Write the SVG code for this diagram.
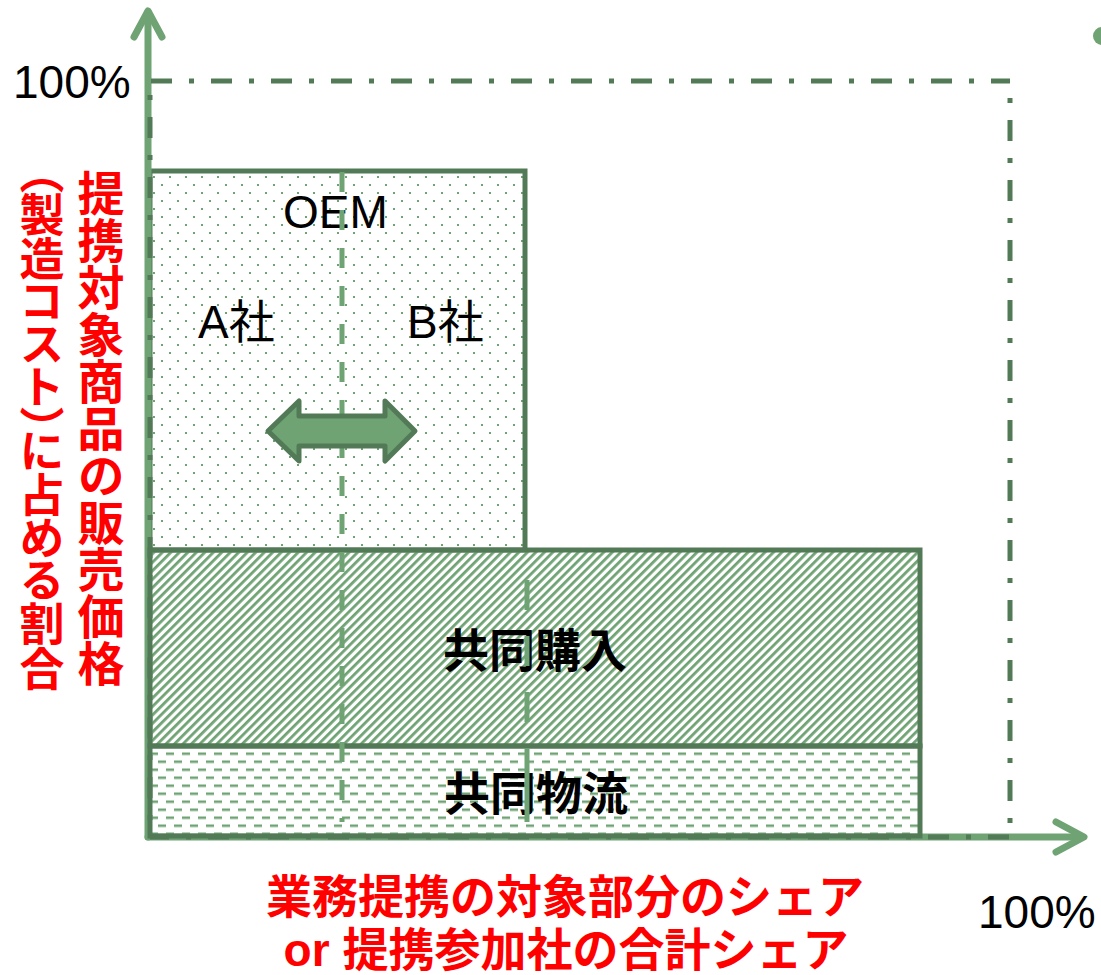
<svg xmlns="http://www.w3.org/2000/svg" width="1101" height="975" viewBox="0 0 1101 975">
<style>
.box{stroke:#527a57;stroke-width:5}
.ax{stroke:#6fa374;stroke-width:7;fill:none;stroke-linecap:round;stroke-linejoin:round}
.dd{stroke:#527a57;stroke-width:5;stroke-dasharray:21 17 5 17;fill:none}
.lbl{font-family:"Liberation Sans","Noto Sans CJK JP",sans-serif;font-size:46px;fill:#000}
.cjk{font-family:"Liberation Sans","Noto Sans CJK JP",sans-serif;font-size:46px;font-weight:bold;fill:#000}
.red{font-family:"Liberation Sans","Noto Sans CJK JP",sans-serif;font-size:46px;font-weight:bold;fill:#ff0000}
.vred{font-family:"Noto Sans CJK JP",sans-serif;font-size:47px;font-weight:bold;fill:#ff0000;writing-mode:vertical-rl}
.vred2{font-family:"Noto Sans CJK JP",sans-serif;font-size:45px;font-weight:bold;fill:#ff0000;writing-mode:vertical-rl;font-feature-settings:"vpal" 1;letter-spacing:-0.6px}
</style>
<defs>
<pattern id="dots" width="16" height="16" patternUnits="userSpaceOnUse" x="9" y="176">
<rect x="0" y="0" width="2" height="2" fill="#6fa374"/>
<rect x="8" y="8" width="2" height="2" fill="#6fa374"/>
</pattern>
<pattern id="hatch" width="6" height="6" patternUnits="userSpaceOnUse" patternTransform="rotate(-45)">
<rect x="0" y="0" width="6" height="2.8" fill="#6fa374"/>
</pattern>
<pattern id="hdash" width="16" height="16" patternUnits="userSpaceOnUse" x="6" y="0.5">
<rect x="0" y="0" width="8" height="2.5" fill="#6fa374"/>
<rect x="8" y="8" width="8" height="2.5" fill="#6fa374"/>
</pattern>
</defs>
<rect width="1101" height="975" fill="#fff"/>

<g id="oem">
<rect x="150" y="171" width="375" height="379" fill="url(#dots)" class="box"/>
</g>

<g id="connectors">
<g id="y-axis">
<line x1="148" y1="837" x2="148" y2="12" class="ax"/>
<polyline points="134,37 148,11 162,37" class="ax"/>
</g>
<g id="x-axis">
<line x1="148" y1="837" x2="1082" y2="837" class="ax"/>
<polyline points="1056,822 1084,837 1056,852" class="ax"/>
</g>
</g>

<g id="frame100">
<line x1="151" y1="81" x2="1010" y2="81" class="dd"/>
<line x1="1010" y1="81" x2="1010" y2="837" class="dd" stroke-dashoffset="21"/>
<line x1="150" y1="81" x2="150" y2="837" class="dd" stroke-dashoffset="24"/>
<line x1="150" y1="837" x2="1010" y2="837" class="dd" stroke-dashoffset="2"/>
</g>

<g id="purchase">
<rect x="150" y="550" width="770" height="196" fill="url(#hatch)" class="box"/>
<text x="535" y="667" class="cjk" text-anchor="middle">共同購入</text>
</g>

<g id="logistics">
<rect x="150" y="746" width="770" height="90" fill="url(#hdash)" class="box"/>
<text x="536" y="810" class="cjk" text-anchor="middle">共同物流</text>
</g>

<g id="oem-labels">
<text x="283" y="228" class="lbl">OEM</text>
<text x="198" y="338" class="lbl">A社</text>
<text x="407" y="338" class="lbl">B社</text>
</g>

<g id="dividers">
<line x1="342" y1="172" x2="342" y2="822" stroke="#6fa374" stroke-width="5" stroke-dasharray="20 18"/>
<path d="M527,580 V610 M527,636 V666 M527,692 V722 M527,748 V822" stroke="#6fa374" stroke-width="5" fill="none"/>
</g>

<g id="swap-arrow">
<polygon points="268,431 299,401 299,416 385,416 385,401 415,431 385,461 385,446 299,446 299,461" fill="#6fa374" stroke="#527a57" stroke-width="5" stroke-linejoin="round"/>
</g>

<g id="y-label">
<text x="101" y="170" class="vred">提携対象商品の販売価格</text>
<text x="42" y="170" class="vred2">（製造コスト）に占める割合</text>
</g>

<g id="x-label">
<text x="565" y="913" class="red" text-anchor="middle">業務提携の対象部分のシェア</text>
<text x="566" y="966" class="red" text-anchor="middle">or 提携参加社の合計シェア</text>
</g>

<g id="ticks">
<text x="13" y="98" class="lbl" font-size="45">100%</text>
<text x="978" y="928" class="lbl" font-size="45">100%</text>
</g>

<circle cx="1102" cy="36" r="9" fill="#6fa374"/>
</svg>
